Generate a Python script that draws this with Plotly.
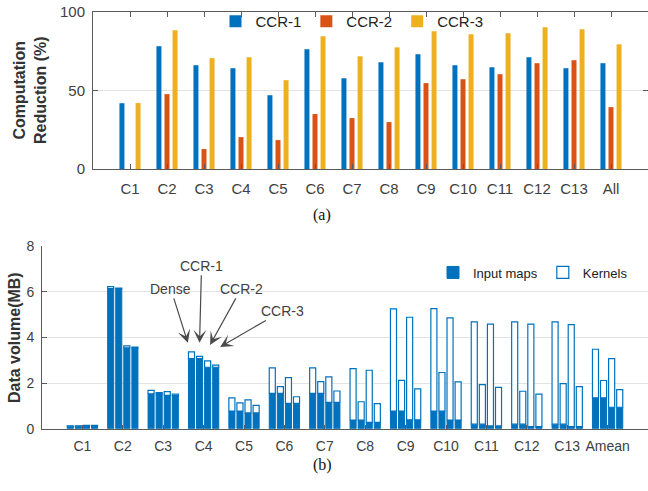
import plotly.graph_objects as go

# ---------------- data: (a) computation reduction (%) ----------------
cats_a = ["C1", "C2", "C3", "C4", "C5", "C6", "C7", "C8", "C9", "C10", "C11", "C12", "C13", "All"]
ccr1_red = [41.9, 78.2, 66.1, 64.2, 47.0, 76.3, 57.8, 68.0, 73.1, 66.1, 64.8, 71.2, 64.2, 67.4]
ccr2_red = [0.0, 47.7, 12.7, 20.3, 18.4, 35.0, 32.4, 29.9, 54.7, 57.2, 60.4, 67.4, 69.3, 39.4]
ccr3_red = [42.0, 88.3, 70.6, 71.2, 56.6, 84.5, 71.8, 77.5, 87.7, 85.8, 86.4, 90.3, 89.0, 79.4]

# ---------------- data: (b) data volume (MB) ----------------
cats_b = ["C1", "C2", "C3", "C4", "C5", "C6", "C7", "C8", "C9", "C10", "C11", "C12", "C13", "Amean"]
variants = ["Dense", "CCR-1", "CCR-2", "CCR-3"]
input_dense = [0.11, 6.13, 1.53, 3.07, 0.77, 1.55, 1.55, 0.38, 0.77, 0.77, 0.20, 0.20, 0.20, 1.35]
input_ccr1 = [0.11, 6.13, 1.53, 3.07, 0.77, 1.55, 1.55, 0.38, 0.77, 0.77, 0.20, 0.20, 0.20, 1.35]
input_ccr2 = [0.12, 3.54, 1.46, 2.69, 0.69, 1.11, 1.15, 0.28, 0.39, 0.38, 0.12, 0.09, 0.09, 0.94]
input_ccr3 = [0.12, 3.54, 1.46, 2.69, 0.69, 1.11, 1.15, 0.28, 0.39, 0.38, 0.12, 0.09, 0.09, 0.94]
kern_dense = [0.02, 0.09, 0.15, 0.29, 0.58, 1.11, 1.11, 2.25, 4.48, 4.49, 4.48, 4.48, 4.48, 2.13]
kern_ccr1 = [0.02, 0.03, 0.05, 0.10, 0.36, 0.29, 0.51, 0.80, 1.35, 1.69, 1.73, 1.44, 1.77, 0.76]
kern_ccr2 = [0.03, 0.09, 0.16, 0.28, 0.57, 1.13, 1.12, 2.28, 4.49, 4.47, 4.46, 4.49, 4.47, 2.13]
kern_ccr3 = [0.03, 0.03, 0.06, 0.09, 0.33, 0.29, 0.50, 0.82, 1.35, 1.67, 1.69, 1.42, 1.75, 0.77]
inputs = [input_dense, input_ccr1, input_ccr2, input_ccr3]
kernels = [kern_dense, kern_ccr1, kern_ccr2, kern_ccr3]

# ---------------- style ----------------
W, H = 648, 491
FONT = "Liberation Sans, Arial, Helvetica, sans-serif"
BLUE = "#0072BD"
RED = "#D95319"
YEL = "#EDB120"
AXC = "#5a5a5a"
TXT = "#404040"
GRID = "#e3e3e3"

fig = go.Figure()

# (a) grouped bars
w_a = 0.135
slot_a = 0.218
for i, (name, vals, col) in enumerate([("CCR-1", ccr1_red, BLUE), ("CCR-2", ccr2_red, RED), ("CCR-3", ccr3_red, YEL)]):
    fig.add_trace(go.Bar(
        x=cats_a, y=vals, name=name, xaxis="x", yaxis="y",
        width=w_a, offset=(i - 1) * slot_a - w_a / 2,
        marker=dict(color=col, line=dict(width=0)),
        legend="legend",
    ))

# (b) grouped + stacked bars
w_b = 0.15
slot_b = 0.2
for i, v in enumerate(variants):
    off = (i - 1.5) * slot_b - w_b / 2
    fig.add_trace(go.Bar(
        x=cats_b, y=inputs[i], name="Input maps", xaxis="x2", yaxis="y2",
        width=w_b, offset=off,
        marker=dict(color=BLUE, line=dict(color=BLUE, width=1)),
        legend="legend2", legendgroup="in", showlegend=(i == 0),
    ))
    fig.add_trace(go.Bar(
        x=cats_b, y=kernels[i], base=inputs[i], name="Kernels", xaxis="x2", yaxis="y2",
        width=w_b, offset=off,
        marker=dict(color="white", line=dict(color=BLUE, width=1.2)),
        legend="legend2", legendgroup="k", showlegend=(i == 0),
    ))

tickfont_a = dict(family=FONT, size=15, color=TXT)
tickfont_b = dict(family=FONT, size=14, color=TXT)

fig.update_layout(
    width=W, height=H,
    margin=dict(l=0, r=0, t=0, b=0, autoexpand=False),
    paper_bgcolor="white", plot_bgcolor="white",
    barmode="overlay",
    font=dict(family=FONT, color=TXT),
    xaxis=dict(
        domain=[93 / W, 1], range=[-1, 14], type="category",
        showline=True, linecolor=AXC, linewidth=1, mirror="ticks",
        ticks="inside", ticklen=5, tickcolor=AXC,
        tickfont=tickfont_a, ticklabelstandoff=6, showgrid=False, zeroline=False,
    ),
    yaxis=dict(
        domain=[1 - 169 / H, 1 - 12 / H], range=[0, 100],
        tickvals=[0, 50, 100],
        showline=True, linecolor=AXC, linewidth=1, mirror="ticks",
        ticks="inside", ticklen=5, tickcolor=AXC,
        tickfont=tickfont_a, ticklabelstandoff=4,
        showgrid=True, gridcolor=GRID, zeroline=False,
    ),
    xaxis2=dict(
        domain=[42 / W, 1], range=[-1, 14], type="category", anchor="y2",
        showline=True, linecolor=AXC, linewidth=1,
        ticks="inside", ticklen=4, tickcolor=AXC,
        tickfont=tickfont_b, ticklabelstandoff=4, showgrid=False, zeroline=False,
    ),
    yaxis2=dict(
        domain=[1 - 428.7 / H, 1 - 246 / H], range=[0, 8], anchor="x2",
        tickvals=[0, 2, 4, 6, 8],
        showline=True, linecolor=AXC, linewidth=1,
        ticks="inside", ticklen=5, tickcolor=AXC,
        tickfont=tickfont_b, ticklabelstandoff=4,
        showgrid=True, gridcolor=GRID, zeroline=False,
    ),
    legend=dict(
        orientation="h", x=352 / W, xanchor="center", y=1 - 21.5 / H, yanchor="middle",
        font=dict(family=FONT, size=15, color="#222"), bgcolor="rgba(0,0,0,0)",
        traceorder="normal",
    ),
    legend2=dict(
        orientation="h", x=633 / W, xanchor="right", y=1 - 272.5 / H, yanchor="middle",
        font=dict(family=FONT, size=13, color="#222"), bgcolor="rgba(0,0,0,0)",
    ),
    showlegend=True,
)

annotations = [
    dict(text="<b>Computation</b><br><b>Reduction (%)</b>", x=30 / W, y=1 - 90 / H, xref="paper", yref="paper",
         textangle=-90, showarrow=False, font=dict(family=FONT, size=16, color="#333"),
         xanchor="center", yanchor="middle"),
    dict(text="<b>Data volume(MB)</b>", x=14 / W, y=1 - 338 / H, xref="paper", yref="paper",
         textangle=-90, showarrow=False, font=dict(family=FONT, size=16, color="#333"),
         xanchor="center", yanchor="middle"),
    dict(text="(a)", x=322 / W, y=1 - 215 / H, xref="paper", yref="paper", showarrow=False,
         font=dict(family="Liberation Serif, Times New Roman, serif", size=16, color="#111")),
    dict(text="(b)", x=322 / W, y=1 - 476 / H, xref="paper", yref="paper", showarrow=False,
         font=dict(family="Liberation Serif, Times New Roman, serif", size=16, color="#111")),
]

# arrows pointing at the C4 group in (b)
arrow_specs = [
    ("Dense", 2.61, 3.76, -17, -54),
    ("CCR-1", 2.90, 3.76, 2, -77),
    ("CCR-2", 3.16, 3.67, 31, -56),
    ("CCR-3", 3.41, 3.58, 62, -36),
]
for txt, ax_x, ax_y, dx, dy in arrow_specs:
    annotations.append(dict(
        text=txt, x=ax_x, y=ax_y, xref="x2", yref="y2",
        ax=dx, ay=dy, showarrow=True, arrowhead=3, arrowsize=1.8, arrowwidth=1.2,
        arrowcolor="#4a4a4a", font=dict(family=FONT, size=14, color=TXT),
    ))

fig.update_layout(annotations=annotations)

fig.write_html(
    "out.html",
    config={"displayModeBar": False},
    post_script="document.body.style.margin='0';document.body.style.padding='0';",
)
